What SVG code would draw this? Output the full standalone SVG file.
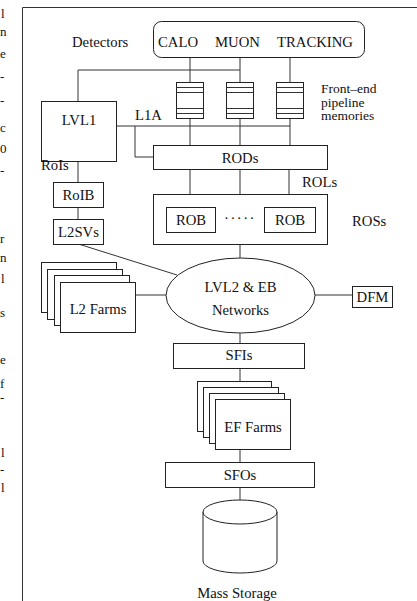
<svg xmlns="http://www.w3.org/2000/svg" width="417" height="601" viewBox="0 0 417 601">
<style>
.b{fill:#fff;stroke:#222;stroke-width:1}
.l{fill:none;stroke:#333;stroke-width:1}
text{font-family:"Liberation Serif","Times New Roman",serif;font-size:14.7px;fill:#111}
.m{text-anchor:middle}
.g{font-size:13px}
</style>
<rect width="417" height="601" fill="#fff"/>
<g id="margin">
<text class="g" x="1" y="18">l</text>
<text class="g" x="0" y="36">n</text>
<text class="g" x="0" y="58">e</text>
<text class="g" x="0" y="81">-</text>
<text class="g" x="0" y="105">-</text>
<text class="g" x="0" y="132">c</text>
<text class="g" x="0" y="153">0</text>
<text class="g" x="0" y="175">-</text>
<text class="g" x="0" y="243">r</text>
<text class="g" x="0" y="262">n</text>
<text class="g" x="1" y="283">l</text>
<text class="g" x="0" y="317">s</text>
<text class="g" x="0" y="364">e</text>
<text class="g" x="0" y="388">f</text>
<text class="g" x="0" y="402">-</text>
<text class="g" x="1" y="457">l</text>
<text class="g" x="0" y="474">-</text>
<text class="g" x="1" y="492">l</text>
</g>
<g id="frame"><path class="l" d="M22.5,601V7.5H417" stroke="#111"/></g>
<g id="connectors">
<path class="l" d="M190,58V82M190,118V145M240,58V82M240,118V145M290,58V82M290,118V145"/>
<path class="l" d="M78,101V70H240"/>
<path class="l" d="M116,126H290M135,126V157H153"/>
<path class="l" d="M190,169V194M240,169V194M289,169V194"/>
<path class="l" d="M240,244V258"/>
<path class="l" d="M78,161V182M78,207V219"/>
<path class="l" d="M80,244.5L177,275"/>
<path class="l" d="M135,295H166"/>
<path class="l" d="M315,295H352"/>
<path class="l" d="M240,333V343M240,368V381M240,449V462M240,487V500"/>
</g>
<g id="detectors">
<rect class="b" x="153.5" y="21.5" width="211" height="36" rx="8"/>
<text x="72" y="47">Detectors</text>
<text x="158" y="47">CALO</text>
<text x="215" y="47">MUON</text>
<text x="277" y="47">TRACKING</text>
</g>
<g id="memories">
<g id="mem1"><rect class="b" x="176.5" y="82.5" width="27" height="36"/><path class="l" d="M176.5,87.5h27M176.5,92.5h27M176.5,108.5h27M176.5,113.5h27"/></g>
<g id="mem2"><rect class="b" x="226.5" y="82.5" width="27" height="36"/><path class="l" d="M226.5,87.5h27M226.5,92.5h27M226.5,108.5h27M226.5,113.5h27"/></g>
<g id="mem3"><rect class="b" x="276.5" y="82.5" width="27" height="36"/><path class="l" d="M276.5,87.5h27M276.5,92.5h27M276.5,108.5h27M276.5,113.5h27"/></g>
<text x="321" y="93" style="font-size:13.5px">Front–end<tspan x="321" dy="13.5">pipeline</tspan><tspan x="321" dy="13.5">memories</tspan></text>
</g>
<g id="lvl1"><rect class="b" x="41.5" y="101.5" width="75" height="60"/><text class="m" x="79" y="125">LVL1</text></g>
<text id="l1a" x="135" y="120">L1A</text>
<text id="rois" x="41" y="170">RoIs</text>
<g id="roib"><rect class="b" x="53.5" y="182.5" width="50" height="25"/><text class="m" x="78.5" y="200">RoIB</text></g>
<g id="l2svs"><rect class="b" x="53.5" y="219.5" width="50" height="25"/><text class="m" x="78.5" y="237">L2SVs</text></g>
<g id="rods"><rect class="b" x="153.5" y="145.5" width="174" height="24"/><text class="m" x="240" y="163">RODs</text></g>
<text id="rols" x="302" y="187">ROLs</text>
<g id="ros">
<rect class="b" x="153.5" y="194.5" width="174" height="50"/>
<rect class="b" x="166.5" y="207.5" width="49" height="25"/><text class="m" x="191" y="225">ROB</text>
<rect class="b" x="264.5" y="207.5" width="51" height="25"/><text class="m" x="290" y="225">ROB</text>
<text class="m" x="240" y="223" style="letter-spacing:1.5px">·····</text>
<text x="352" y="226">ROSs</text>
</g>
<g id="l2farms">
<rect class="b" x="41.5" y="262.5" width="75" height="50"/>
<rect class="b" x="47.5" y="269.5" width="75" height="50"/>
<rect class="b" x="54.5" y="275.5" width="75" height="50"/>
<rect class="b" x="60.5" y="282.5" width="75" height="50"/>
<text class="m" x="98" y="314">L2 Farms</text>
</g>
<g id="network">
<ellipse class="b" cx="240.5" cy="295.5" rx="74.5" ry="37.5"/>
<text class="m" x="240.5" y="292">LVL2 &amp; EB</text>
<text class="m" x="240.5" y="315">Networks</text>
</g>
<g id="dfm"><rect class="b" x="352.5" y="286.5" width="40" height="21"/><text class="m" x="372.5" y="302">DFM</text></g>
<g id="sfis"><rect class="b" x="173.5" y="343.5" width="131" height="25"/><text class="m" x="239" y="360">SFIs</text></g>
<g id="effarms">
<rect class="b" x="197.5" y="381.5" width="74" height="50"/>
<rect class="b" x="203.5" y="387.5" width="75" height="50"/>
<rect class="b" x="209.5" y="393.5" width="75" height="50"/>
<rect class="b" x="215.5" y="399.5" width="75" height="50"/>
<text class="m" x="253" y="432">EF Farms</text>
</g>
<g id="sfos"><rect class="b" x="165.5" y="462.5" width="149" height="25"/><text class="m" x="240" y="480">SFOs</text></g>
<g id="storage">
<path class="b" d="M203,512V561A37,12 0 0 0 277,561V512"/>
<ellipse class="b" cx="240" cy="512" rx="37" ry="12"/>
<text class="m" x="237" y="598">Mass Storage</text>
</g>
</svg>
